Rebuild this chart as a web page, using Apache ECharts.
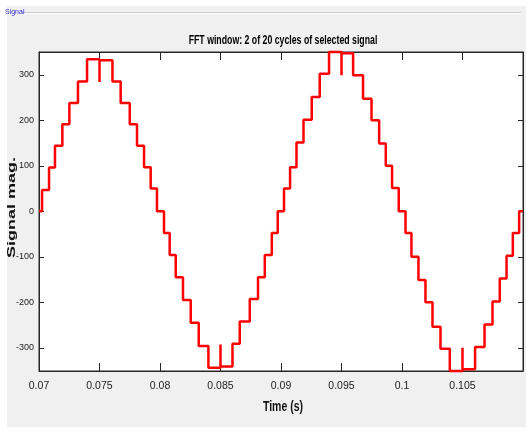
<!DOCTYPE html>
<html><head><meta charset="utf-8">
<script src="https://cdn.jsdelivr.net/npm/echarts@6/dist/echarts.min.js"></script>
<style>
html,body{margin:0;padding:0;background:#fff;}
#bg{position:absolute;left:7px;top:6px;width:519px;height:421px;background:#f0f0f0;}
#chart{position:absolute;left:0;top:0;width:526px;height:431px;}
</style></head><body>
<div id="bg"></div><div id="chart"></div>
<script>
// Step signal: time at which each level starts, and the level
const stepTimes = [
  0.0700, 0.07025, 0.07083, 0.07132, 0.07193, 0.07251, 0.07322, 0.07397, 0.0750, 0.0750,
  0.07607, 0.07675, 0.07750, 0.07810, 0.07868, 0.07923, 0.07975, 0.08033, 0.08080, 0.08130,
  0.08190, 0.08254, 0.08320, 0.08400, 0.0850, 0.0850, 0.08599, 0.08659, 0.08742, 0.08810,
  0.08866, 0.08924, 0.08973, 0.09025, 0.09075, 0.09128, 0.09186, 0.09254, 0.09320, 0.09397,
  0.0950, 0.0950, 0.09596, 0.09678, 0.09748, 0.09811, 0.09866, 0.09918, 0.09973, 0.10029,
  0.10078, 0.10136, 0.10194, 0.10252, 0.10318, 0.10395, 0.1050, 0.1050, 0.10604, 0.10682,
  0.10748, 0.10808, 0.10864, 0.10916, 0.10968, 0.1100
];
const stepLevels = [
  0, 47, 96, 144, 191, 238, 285, 334, 284, 332,
  285, 238, 191, 144, 97, 50, 0, -48, -96, -145,
  -195, -245, -296, -344, -293, -341, -291, -242, -193, -145,
  -96, -48, 0, 50, 97, 151, 201, 251, 302, 350,
  299, 347, 299, 247, 200, 149, 100, 51, 0, -48,
  -100, -151, -200, -254, -302, -351, -300, -347, -298, -249,
  -198, -148, -98, -48, 0, 0
];
const xTickValues = [0.07, 0.075, 0.08, 0.085, 0.09, 0.095, 0.1, 0.105];
const xTickLabels = ['0.07', '0.075', '0.08', '0.085', '0.09', '0.095', '0.1', '0.105'];
const yTickValues = [-300, -200, -100, 0, 100, 200, 300];
const yTickLabels = ['-300', '-200', '-100', '0', '100', '200', '300'];
const chartTitle = 'FFT window: 2 of 20 cycles of selected signal';
const xAxisTitle = 'Time (s)';
const yAxisTitle = 'Signal mag.';
const panelTitle = 'Signal';

const X_MIN = 0.07, X_MAX = 0.11, Y_MIN = -351, Y_MAX = 350;
const AX = '#262626';
const labelFont = '"Liberation Sans Narrow", "Liberation Sans", Arial, sans-serif';

function lookup(vals, labels, v) {
  const i = vals.findIndex(t => Math.abs(t - v) < 1e-9);
  return i >= 0 ? labels[i] : '';
}

const chart = echarts.init(document.getElementById('chart'), null, {renderer: 'canvas'});
const baseX = {
  type: 'value', min: X_MIN, max: X_MAX,
  axisLine: {show: true, onZero: false, lineStyle: {color: AX, width: 1}},
  splitLine: {show: false}
};
const baseY = {
  type: 'value', min: Y_MIN, max: Y_MAX,
  axisLine: {show: true, onZero: false, lineStyle: {color: AX, width: 1}},
  splitLine: {show: false}
};
chart.setOption({
  animation: false,
  backgroundColor: 'transparent',
  grid: {left: 39, right: 3, top: 52, bottom: 60, show: true, backgroundColor: '#fff', borderColor: AX, borderWidth: 1, containLabel: false},
  xAxis: [
    Object.assign({}, baseX, {
      position: 'bottom',
      axisTick: {show: true, inside: true, length: 8, lineStyle: {color: AX}, customValues: xTickValues},
      axisLabel: {show: true, customValues: xTickValues, margin: 10, color: '#222', fontFamily: labelFont, fontSize: 10.5,
        formatter: v => lookup(xTickValues, xTickLabels, v)}
    }),
    Object.assign({}, baseX, {
      position: 'top',
      axisTick: {show: true, inside: true, length: 8, lineStyle: {color: AX}, customValues: xTickValues},
      axisLabel: {show: false}
    })
  ],
  yAxis: [
    Object.assign({}, baseY, {
      position: 'left',
      axisTick: {show: true, inside: true, length: 5, lineStyle: {color: AX}, customValues: yTickValues},
      axisLabel: {show: true, customValues: yTickValues, margin: 5, color: '#222', fontFamily: labelFont, fontSize: 9,
        formatter: v => lookup(yTickValues, yTickLabels, v)}
    }),
    Object.assign({}, baseY, {
      position: 'right',
      axisTick: {show: true, inside: true, length: 5, lineStyle: {color: AX}, customValues: yTickValues},
      axisLabel: {show: false}
    })
  ],
  series: [{
    type: 'line',
    xAxisIndex: 0, yAxisIndex: 0,
    step: 'end',
    symbol: 'none',
    clip: false,
    lineStyle: {color: '#ff0000', width: 2.5},
    data: stepTimes.map((t, i) => [t, stepLevels[i]])
  }],
  graphic: [
    {type: 'line', shape: {x1: 22, y1: 12.5, x2: 521, y2: 12.5}, style: {stroke: '#c8c8c8', lineWidth: 1}, silent: true},
    {type: 'line', shape: {x1: 22, y1: 13.5, x2: 521, y2: 13.5}, style: {stroke: '#ffffff', lineWidth: 1}, silent: true},
    {type: 'text', x: 5, y: 12, style: {text: panelTitle, fill: '#3030d8', font: '7px "Liberation Sans Narrow", sans-serif', align: 'left', verticalAlign: 'middle'}, silent: true},
    {type: 'text', x: 283, y: 40.5, scaleX: 0.7, style: {text: chartTitle, fill: '#000', font: 'bold 12.5px "Liberation Sans", Arial, sans-serif', align: 'center', verticalAlign: 'middle'}, silent: true},
    {type: 'text', x: 283, y: 407, scaleX: 0.7, style: {text: xAxisTitle, fill: '#111', font: 'bold 15px "Liberation Sans", Arial, sans-serif', align: 'center', verticalAlign: 'middle'}, silent: true},
    {type: 'text', x: 12, y: 207.5, rotation: Math.PI / 2, scaleY: 0.65, style: {text: yAxisTitle, fill: '#111', font: 'bold 18px "Liberation Sans", Arial, sans-serif', align: 'center', verticalAlign: 'middle'}, silent: true}
  ]
});
</script>
</body></html>
